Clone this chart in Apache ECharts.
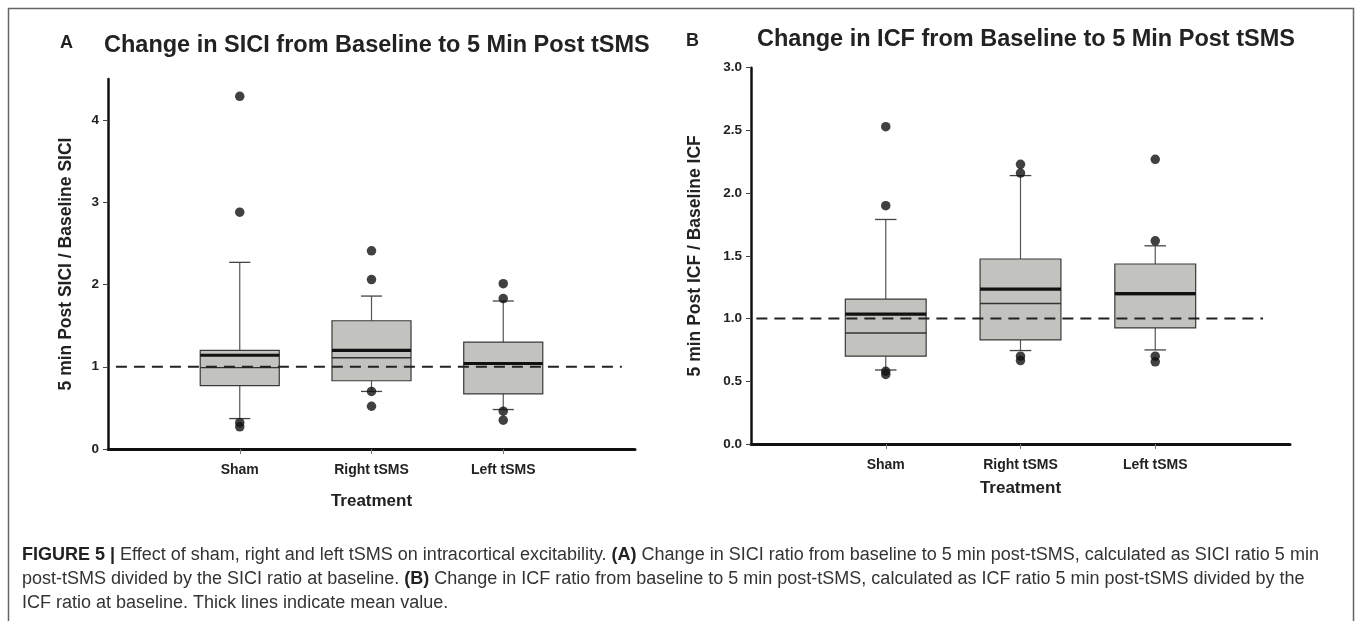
<!DOCTYPE html>
<html>
<head>
<meta charset="utf-8">
<title>Figure 5 - SICI / ICF</title>
<script src="https://cdn.jsdelivr.net/npm/echarts@6/dist/echarts.min.js"></script>
<style>
  html, body { margin: 0; padding: 0; background: #fff; }
  #main { width: 1357px; height: 621px; }
</style>
</head>
<body>
<div id="main"></div>
<script>
// categories on the x axis, placed at 1, 2, 3 of a 0..4 value axis
const categories = ['Sham', 'Right tSMS', 'Left tSMS']

// panel A - SICI ratio (5 min post / baseline)
const siciLow = [0.37, 0.70, 0.48]
const siciQ1 = [0.77, 0.83, 0.67]
const siciMedian = [0.99, 1.11, 1.03]
const siciQ3 = [1.20, 1.56, 1.30]
const siciHigh = [2.27, 1.86, 1.80]
const siciMean = [1.14, 1.20, 1.04]
const siciOutliers = [[4.29, 2.88, 0.32, 0.27], [2.41, 2.06, 0.70, 0.52], [2.01, 1.83, 0.46, 0.35]]

// panel B - ICF ratio (5 min post / baseline)
const icfLow = [0.59, 0.745, 0.75]
const icfQ1 = [0.70, 0.83, 0.925]
const icfMedian = [0.885, 1.12, 1.19]
const icfQ3 = [1.155, 1.475, 1.435]
const icfHigh = [1.79, 2.14, 1.58]
const icfMean = [1.035, 1.235, 1.20]
const icfOutliers = [[2.53, 1.90, 0.58, 0.555], [2.23, 2.16, 0.70, 0.665], [2.27, 1.62, 0.70, 0.655]]

// dashed reference line at ratio = 1
const baseline = 1
const siciBaselineSpan = [0.06, 3.9]
const icfBaselineSpan = [0.04, 3.8]

const siciTicks = [0, 1, 2, 3, 4]
const icfTicks = [0, 0.5, 1, 1.5, 2, 2.5, 3]

const FONT = "'Liberation Sans', Arial, sans-serif"

function boxRows(low, q1, med, q3, high, mean) {
  return categories.map((c, i) => [i + 1, low[i], q1[i], med[i], q3[i], high[i], mean[i]])
}
function outlierRows(list) {
  const rows = []
  list.forEach((vals, i) => vals.forEach(v => rows.push([i + 1, v])))
  return rows
}

function renderBox(params, api) {
  const x = api.value(0)
  const pLow = api.coord([x, api.value(1)])
  const pQ1 = api.coord([x, api.value(2)])
  const pMed = api.coord([x, api.value(3)])
  const pQ3 = api.coord([x, api.value(4)])
  const pHigh = api.coord([x, api.value(5)])
  const pMean = api.coord([x, api.value(6)])
  const boxW = api.size([0.6, 0])[0]
  const capW = api.size([0.16, 0])[0]
  const cx = pQ1[0]
  const hline = (y, w, style) => ({
    type: 'line',
    shape: { x1: cx - w / 2, y1: y, x2: cx + w / 2, y2: y },
    style: style
  })
  const whisker = { stroke: '#555', lineWidth: 1.2 }
  return {
    type: 'group',
    children: [
      { type: 'line', shape: { x1: cx, y1: pLow[1], x2: cx, y2: pQ1[1] }, style: whisker },
      { type: 'line', shape: { x1: cx, y1: pQ3[1], x2: cx, y2: pHigh[1] }, style: whisker },
      hline(pLow[1], capW, { stroke: '#444', lineWidth: 1.3 }),
      hline(pHigh[1], capW, { stroke: '#444', lineWidth: 1.3 }),
      {
        type: 'rect',
        shape: { x: cx - boxW / 2, y: pQ3[1], width: boxW, height: pQ1[1] - pQ3[1] },
        style: { fill: '#c2c2be', stroke: '#3a3a3a', lineWidth: 1.2 }
      },
      hline(pMed[1], boxW, { stroke: '#333', lineWidth: 1.3 }),
      hline(pMean[1], boxW, { stroke: '#111', lineWidth: 3.2 })
    ]
  }
}

function xAxisFor(gridIndex, gap) {
  return {
    type: 'value',
    gridIndex: gridIndex,
    min: 0,
    max: 4,
    interval: 1,
    name: 'Treatment',
    nameLocation: 'middle',
    nameGap: gap,
    nameTextStyle: { fontFamily: FONT, fontWeight: 'bold', fontSize: 17, color: '#222' },
    axisLine: { show: true, onZero: false, lineStyle: { color: '#111', width: 3 } },
    axisTick: { show: true, customValues: [1, 2, 3], length: 5, lineStyle: { color: '#777', width: 1 } },
    axisLabel: {
      customValues: [1, 2, 3],
      formatter: v => categories[Math.round(v) - 1] || '',
      fontFamily: FONT, fontWeight: 'bold', fontSize: 14, color: '#222', margin: 14
    },
    splitLine: { show: false }
  }
}

function yAxisFor(gridIndex, max, interval, ticks, name, gap, digits) {
  return {
    type: 'value',
    gridIndex: gridIndex,
    min: 0,
    max: max,
    interval: interval,
    name: name,
    nameLocation: 'middle',
    nameGap: gap,
    nameTextStyle: { fontFamily: FONT, fontWeight: 'bold', fontSize: 17.5, color: '#222' },
    axisLine: { show: true, lineStyle: { color: '#111', width: 2.5 } },
    axisTick: { show: true, customValues: ticks, length: 5, lineStyle: { color: '#444', width: 1 } },
    axisLabel: {
      customValues: ticks,
      formatter: v => v.toFixed(digits),
      fontFamily: FONT, fontWeight: 'bold', fontSize: 13.5, color: '#222', margin: 9
    },
    splitLine: { show: false }
  }
}

function boxSeries(idx, rows) {
  return {
    type: 'custom',
    xAxisIndex: idx,
    yAxisIndex: idx,
    renderItem: renderBox,
    data: rows,
    z: 2,
    silent: true
  }
}
function baselineSeries(idx, span) {
  return {
    type: 'line',
    xAxisIndex: idx,
    yAxisIndex: idx,
    data: [[span[0], baseline], [span[1], baseline]],
    symbol: 'none',
    lineStyle: { color: '#222', width: 2, type: [11, 7] },
    z: 3,
    silent: true
  }
}
function outlierSeries(idx, rows) {
  return {
    type: 'scatter',
    xAxisIndex: idx,
    yAxisIndex: idx,
    data: rows,
    symbol: 'circle',
    symbolSize: 9.5,
    itemStyle: { color: '#111' },
    z: 4,
    silent: true
  }
}

const titleStyle = { fontFamily: FONT, fontWeight: 'bold', fontSize: 23.5, color: '#222' }
const letterStyle = { fontFamily: FONT, fontWeight: 'bold', fontSize: 18, color: '#222' }

const chart = echarts.init(document.getElementById('main'), null, { renderer: 'canvas' })
chart.setOption({
  backgroundColor: '#fff',
  animation: false,
  title: [
    { text: 'A', left: 55, top: 29, textStyle: letterStyle },
    { text: 'Change in SICI from Baseline to 5 Min Post tSMS', left: 99, top: 29, textStyle: titleStyle },
    { text: 'B', left: 681, top: 27, textStyle: letterStyle },
    { text: 'Change in ICF from Baseline to 5 Min Post tSMS', left: 752, top: 23, textStyle: titleStyle }
  ],
  grid: [
    { left: 108, top: 79, width: 527, height: 370 },
    { left: 751, top: 67.7, width: 539, height: 376.3 }
  ],
  xAxis: [xAxisFor(0, 44), xAxisFor(1, 36)],
  yAxis: [
    yAxisFor(0, 4.5, 1, siciTicks, '5 min Post SICI / Baseline SICI', 33, 0),
    yAxisFor(1, 3, 0.5, icfTicks, '5 min Post ICF / Baseline ICF', 47, 1)
  ],
  series: [
    boxSeries(0, boxRows(siciLow, siciQ1, siciMedian, siciQ3, siciHigh, siciMean)),
    baselineSeries(0, siciBaselineSpan),
    outlierSeries(0, outlierRows(siciOutliers)),
    boxSeries(1, boxRows(icfLow, icfQ1, icfMedian, icfQ3, icfHigh, icfMean)),
    baselineSeries(1, icfBaselineSpan),
    outlierSeries(1, outlierRows(icfOutliers))
  ],
  graphic: [
    {
      type: 'rect',
      shape: { x: 8.5, y: 8.5, width: 1345, height: 640 },
      style: { fill: 'none', stroke: '#666', lineWidth: 1.5 },
      silent: true
    },
    {
      type: 'text',
      left: 22,
      top: 543,
      style: {
        text: '{b|FIGURE 5 |} Effect of sham, right and left tSMS on intracortical excitability. {b|(A)} Change in SICI ratio from baseline to 5 min post-tSMS, calculated as SICI ratio 5 min\n' +
          'post-tSMS divided by the SICI ratio at baseline. {b|(B)} Change in ICF ratio from baseline to 5 min post-tSMS, calculated as ICF ratio 5 min post-tSMS divided by the\n' +
          'ICF ratio at baseline. Thick lines indicate mean value.',
        font: '18px ' + FONT,
        fill: '#333',
        lineHeight: 24,
        rich: {
          b: { fontFamily: FONT, fontSize: 18, fontWeight: 'bold', fill: '#222', lineHeight: 24 }
        }
      },
      silent: true
    }
  ]
})
</script>
</body>
</html>
